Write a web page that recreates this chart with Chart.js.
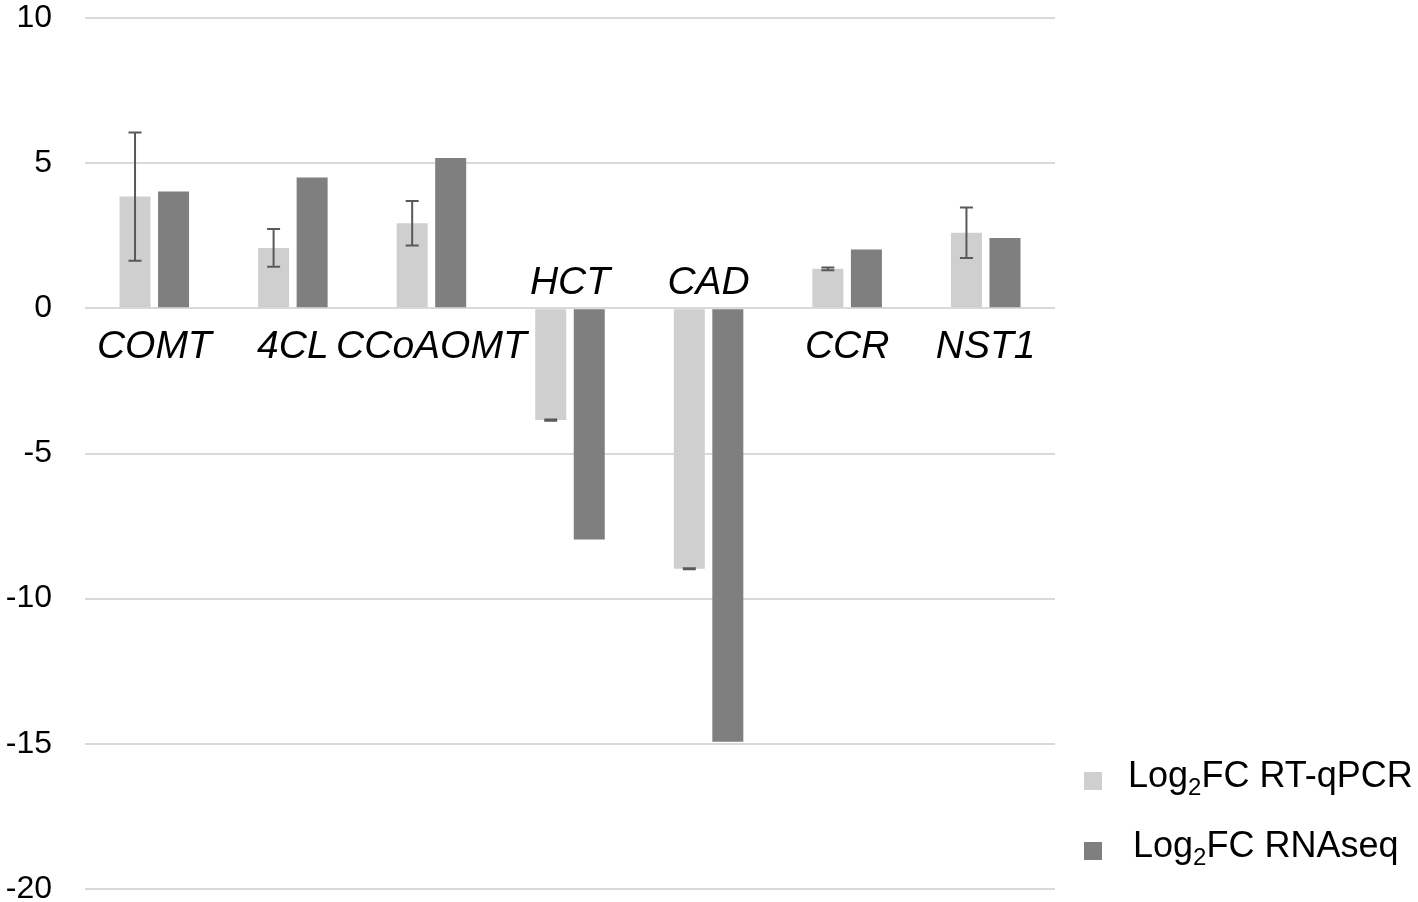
<!DOCTYPE html>
<html>
<head>
<meta charset="utf-8">
<script src="https://cdn.jsdelivr.net/npm/chart.js@4/dist/chart.umd.min.js"></script>
<style>
  html, body { margin: 0; padding: 0; background: #fff; }
  #wrap { width: 1418px; height: 902px; }
</style>
</head>
<body>
<div id="wrap"><canvas id="geneChart" width="1418" height="902"></canvas></div>
<script>
const genes = ['COMT', '4CL', 'CCoAOMT', 'HCT', 'CAD', 'CCR', 'NST1'];
const rtqpcr = [3.85, 2.08, 2.93, -3.85, -8.97, 1.36, 2.6];
const rtqpcrErr = [2.21, 0.65, 0.77, 0.02, 0.02, 0.05, 0.87];
const rnaseq = [4.02, 4.51, 5.18, -7.96, -14.93, 2.03, 2.42];
const yTicks = [-20, -15, -10, -5, 0, 5, 10];

const FONT = "'Liberation Sans', Arial, sans-serif";
const LIGHT = '#d0cfcf';
const DARK = '#7f7f7f';

// error bars on the RT-qPCR series
const errorBars = {
    id: 'errorBars',
    afterDatasetsDraw(chart) {
        const meta = chart.getDatasetMeta(0);
        const y = chart.scales.y;
        const c = chart.ctx;
        c.save();
        c.strokeStyle = '#595959';
        c.lineWidth = 2;
        meta.data.forEach((bar, i) => {
            const hi = y.getPixelForValue(rtqpcr[i] + rtqpcrErr[i]);
            const lo = y.getPixelForValue(rtqpcr[i] - rtqpcrErr[i]);
            c.beginPath();
            c.moveTo(bar.x, hi); c.lineTo(bar.x, lo);
            c.moveTo(bar.x - 6.5, hi); c.lineTo(bar.x + 6.5, hi);
            c.moveTo(bar.x - 6.5, lo); c.lineTo(bar.x + 6.5, lo);
            c.stroke();
        });
        c.restore();
    }
};

// gene names sit on the zero line, on the side away from the bars
const geneLabels = {
    id: 'geneLabels',
    afterDatasetsDraw(chart) {
        const x = chart.scales.x;
        const y0 = chart.scales.y.getPixelForValue(0);
        const c = chart.ctx;
        c.save();
        c.font = 'italic 39px ' + FONT;
        c.fillStyle = '#000';
        c.textAlign = 'center';
        c.textBaseline = 'alphabetic';
        genes.forEach((g, i) => {
            const neg = rnaseq[i] < 0;
            c.fillText(g, x.getPixelForValue(i), neg ? y0 - 14 : y0 + 50);
        });
        c.restore();
    }
};

// legend with subscript 2
const subLegend = {
    id: 'subLegend',
    afterDraw(chart) {
        const c = chart.ctx;
        const items = [
            { color: LIGHT, rest: 'FC RT-qPCR', x: 1128, y: 787 },
            { color: DARK, rest: 'FC RNAseq', x: 1133, y: 857 }
        ];
        c.save();
        items.forEach(it => {
            c.fillStyle = it.color;
            c.fillRect(1084, it.y - 15, 18, 18);
            c.fillStyle = '#000';
            c.font = '36px ' + FONT;
            let px = it.x;
            c.fillText('Log', px, it.y);
            px += c.measureText('Log').width;
            c.font = '24px ' + FONT;
            c.fillText('2', px, it.y + 8);
            px += c.measureText('2').width;
            c.font = '36px ' + FONT;
            c.fillText(it.rest, px, it.y);
        });
        c.restore();
    }
};

new Chart(document.getElementById('geneChart').getContext('2d'), {
    type: 'bar',
    data: {
        labels: genes,
        datasets: [{
            label: 'Log2FC RT-qPCR',
            data: rtqpcr,
            backgroundColor: LIGHT,
            categoryPercentage: 0.556,
            barPercentage: 0.805
        }, {
            label: 'Log2FC RNAseq',
            data: rnaseq,
            backgroundColor: DARK,
            categoryPercentage: 0.556,
            barPercentage: 0.805
        }]
    },
    options: {
        responsive: false,
        animation: false,
        layout: { padding: { top: 18, bottom: 13, right: 363, left: 0 } },
        scales: {
            x: { display: false },
            y: {
                min: -20,
                max: 10,
                afterFit(scale) {
                    scale.width = 85;
                    scale.paddingTop = 0;
                    scale.paddingBottom = 0;
                },
                afterBuildTicks(scale) { scale.ticks = yTicks.map(v => ({ value: v })); },
                border: { display: false },
                grid: { color: '#d9d9d9', lineWidth: 2, drawTicks: false },
                ticks: {
                    padding: 33,
                    color: '#000',
                    font: { size: 32, family: FONT }
                }
            }
        },
        plugins: {
            legend: { display: false },
            tooltip: { enabled: false }
        }
    },
    plugins: [errorBars, geneLabels, subLegend]
});
</script>
</body>
</html>
